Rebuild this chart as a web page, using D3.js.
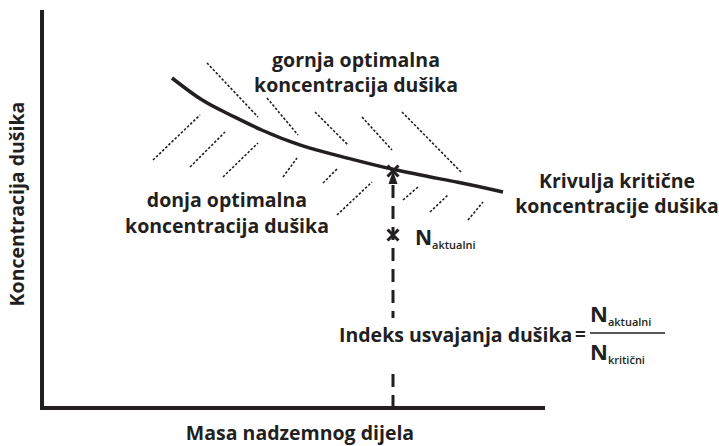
<!DOCTYPE html>
<html>
<head>
<meta charset="utf-8">
<script src="https://cdn.jsdelivr.net/npm/d3@7"></script>
<style>
  body { margin: 0; background: #fff; }
  text { font-family: "Open Sans", sans-serif; font-weight: 700; fill: #231f20; }
</style>
</head>
<body>
<div id="chart"></div>
<script>
// shema: kritična krivulja koncentracije N (proizvoljne jedinice)
const curvePoints = [[130, 330], [161, 306], [185, 295], [218, 278], [261, 261],
                     [298, 252], [350, 238], [421, 225], [461, 216]];

// crtkane linije iznad krivulje (gornja optimalna)
const upperHatch = [
  [[165, 345], [216, 291]],
  [[225, 310], [256, 273]],
  [[273, 296], [306, 263]],
  [[320, 291], [350, 258]],
  [[360, 296], [420, 235]]
];

// crtkane linije ispod krivulje (donja optimalna)
const lowerHatch = [
  [[111, 248], [158, 293]],
  [[148, 241], [183, 276]],
  [[181, 231], [216, 265]],
  [[241, 231], [255, 250]],
  [[281, 225], [296, 240]],
  [[295, 193], [330, 226]],
  [[361, 208], [376, 221]],
  [[388, 196], [406, 213]],
  [[426, 188], [441, 206]]
];

const nMass = 351;       // masa u kojoj se mjeri
const nCritical = 237;   // N kritični (na krivulji)
const nActual = 173;     // N aktualni

const width = 719, height = 446;
const x = d3.scaleLinear().domain([0, 500]).range([42, 542]);
const y = d3.scaleLinear().domain([0, 400]).range([408, 8]);

const svg = d3.select("#chart").append("svg")
    .attr("width", width)
    .attr("height", height);

const ink = "#231f20";

// osi
svg.append("path")
    .attr("d", "M" + x(0) + "," + y(398) + "V" + y(0) + "H" + x(503))
    .attr("fill", "none")
    .attr("stroke", ink)
    .attr("stroke-width", 4);

// šrafura
const hatch = svg.append("g")
    .attr("stroke", ink)
    .attr("stroke-width", 1.6)
    .attr("stroke-dasharray", "2.5,1.8");
hatch.selectAll("line.up").data(upperHatch).join("line")
    .attr("class", "up")
    .attr("x1", d => x(d[0][0])).attr("y1", d => y(d[0][1]))
    .attr("x2", d => x(d[1][0])).attr("y2", d => y(d[1][1]));
hatch.selectAll("line.lo").data(lowerHatch).join("line")
    .attr("class", "lo")
    .attr("x1", d => x(d[0][0])).attr("y1", d => y(d[0][1]))
    .attr("x2", d => x(d[1][0])).attr("y2", d => y(d[1][1]));

// kritična krivulja
const line = d3.line()
    .x(d => x(d[0]))
    .y(d => y(d[1]))
    .curve(d3.curveBasis);

svg.append("path")
    .datum(curvePoints)
    .attr("d", line)
    .attr("fill", "none")
    .attr("stroke", ink)
    .attr("stroke-width", 3.5);

// vertikalna crtkana linija
svg.append("line")
    .attr("x1", x(nMass)).attr("x2", x(nMass))
    .attr("y1", y(0)).attr("y2", y(nCritical) + 6)
    .attr("stroke", ink)
    .attr("stroke-width", 3)
    .attr("stroke-dasharray", "13,8");

// strelica prema krivulji
{
  const cx = x(nMass), cy = y(nCritical);
  svg.append("path")
      .attr("d", `M${cx},${cy}L${cx + 4.5},${cy + 13}L${cx - 4.5},${cy + 13}Z`)
      .attr("fill", ink);
}

// oznake X
[nCritical, nActual].forEach(v => {
  const cx = x(nMass), cy = y(v), s = 5.5;
  svg.append("path")
      .attr("d", `M${cx - s},${cy - s}L${cx + s},${cy + s}M${cx + s},${cy - s}L${cx - s},${cy + s}`)
      .attr("stroke", ink)
      .attr("stroke-width", 3);
});

// tekst
function label(lines, cx, baseline, size, gap) {
  const t = svg.append("text")
      .attr("text-anchor", "middle")
      .attr("font-size", size);
  lines.forEach((s, i) => {
    t.append("tspan").attr("x", cx).attr("y", baseline + i * gap).text(s);
  });
  return t;
}

label(["gornja optimalna", "koncentracija dušika"], 356, 67, 19.5, 25);
label(["donja optimalna", "koncentracija dušika"], 227, 207, 19.5, 26);
label(["Krivulja kritične", "koncentracije dušika"], 617, 188, 19.5, 25);

// N aktualni uz oznaku
const na = svg.append("text").attr("x", x(nMass) + 22).attr("y", y(nActual) + 10).attr("font-size", 21);
na.append("tspan").text("N");
na.append("tspan").attr("font-size", 11).attr("font-weight", 600).attr("dy", 4).text("aktualni");

// indeks usvajanja
svg.append("rect")
    .attr("x", 337).attr("y", 318)
    .attr("width", 236).attr("height", 54)
    .attr("fill", "#fff");

svg.append("text")
    .attr("x", 339).attr("y", 342)
    .attr("font-size", 19.5)
    .text("Indeks usvajanja dušika");
svg.append("text")
    .attr("x", 575).attr("y", 341)
    .attr("font-size", 19)
    .text("=");

svg.append("line")
    .attr("x1", 590).attr("x2", 665)
    .attr("y1", 333).attr("y2", 333)
    .attr("stroke", ink)
    .attr("stroke-width", 1.5);

const num = svg.append("text").attr("x", 590).attr("y", 322).attr("font-size", 22);
num.append("tspan").text("N");
num.append("tspan").attr("font-size", 11).attr("font-weight", 600).attr("dy", 4).text("aktualni");
const den = svg.append("text").attr("x", 590).attr("y", 360).attr("font-size", 22);
den.append("tspan").text("N");
den.append("tspan").attr("font-size", 11).attr("font-weight", 600).attr("dy", 4).text("kritični");

// naslovi osi
svg.append("text")
    .attr("text-anchor", "middle")
    .attr("x", 300).attr("y", 440)
    .attr("font-size", 19.5)
    .text("Masa nadzemnog dijela");

svg.append("text")
    .attr("text-anchor", "middle")
    .attr("transform", "translate(24,204) rotate(-90)")
    .attr("font-size", 19.5)
    .text("Koncentracija dušika");
</script>
</body>
</html>
